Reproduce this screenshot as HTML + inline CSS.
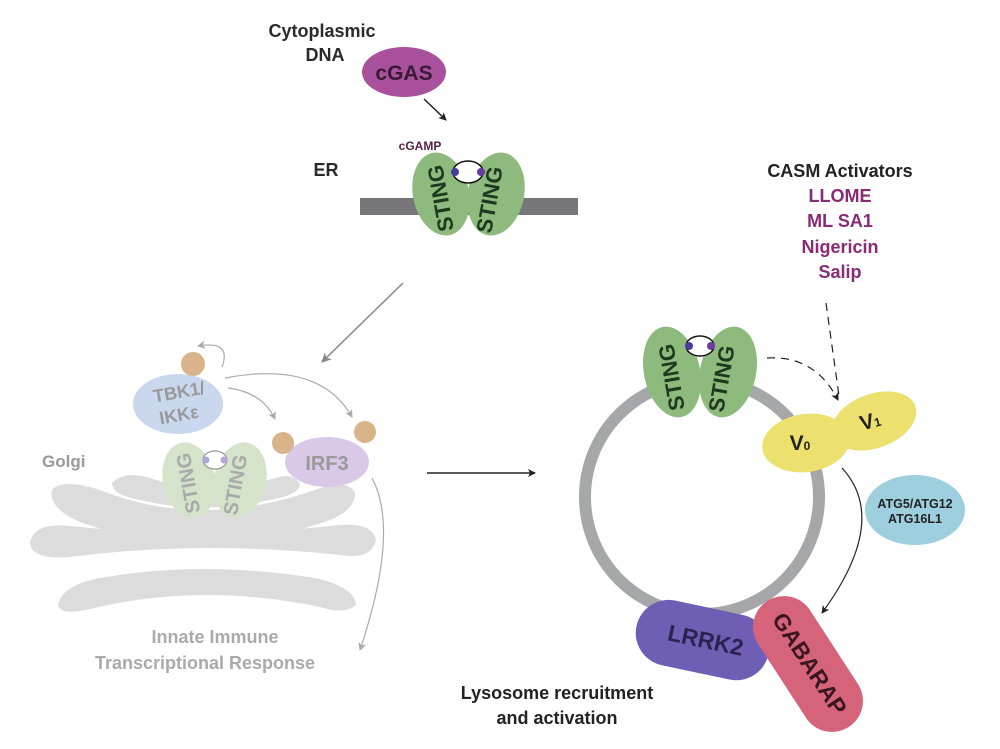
<!DOCTYPE html>
<html><head><meta charset="utf-8"><style>
html,body{margin:0;padding:0;background:#fff}
svg{display:block}
text{font-family:"Liberation Sans",sans-serif;font-weight:bold}
</style></head><body>
<svg width="1000" height="749" viewBox="0 0 1000 749" xmlns="http://www.w3.org/2000/svg">
<defs>
<marker id="ab" markerWidth="8" markerHeight="8" refX="7" refY="4" orient="auto" markerUnits="userSpaceOnUse"><path d="M0,0 L8,4 L0,8 L2,4Z" fill="#222"/></marker>
<marker id="ag" markerWidth="10" markerHeight="10" refX="9" refY="5" orient="auto" markerUnits="userSpaceOnUse"><path d="M0,0 L10,5 L0,10 L3,5Z" fill="#888"/></marker>
<marker id="al" markerWidth="8" markerHeight="8" refX="7" refY="4" orient="auto" markerUnits="userSpaceOnUse"><path d="M0,0 L8,4 L0,8 L2,4Z" fill="#aaa"/></marker>
</defs>

<!-- top -->
<text x="322" y="37" font-size="18" fill="#2a2a2a" text-anchor="middle">Cytoplasmic</text>
<text x="325" y="61" font-size="18" fill="#2a2a2a" text-anchor="middle">DNA</text>
<ellipse cx="404" cy="72" rx="42" ry="25" fill="#a8529e"/>
<text x="404" y="80" font-size="21" fill="#3a1a35" text-anchor="middle">cGAS</text>
<line x1="424" y1="99" x2="446" y2="120" stroke="#222" stroke-width="1.5" marker-end="url(#ab)"/>
<text x="420" y="150" font-size="12" fill="#5a1e48" text-anchor="middle">cGAMP</text>
<text x="326" y="176" font-size="18" fill="#2a2a2a" text-anchor="middle">ER</text>
<rect x="360" y="198" width="218" height="17" fill="#77777b"/>
<g>
<ellipse cx="441" cy="194" rx="28" ry="42" transform="rotate(-12 441 194)" fill="#8fba7e"/>
<ellipse cx="496" cy="194" rx="28" ry="42" transform="rotate(12 496 194)" fill="#8fba7e"/>
<text transform="translate(448,197) rotate(-100)" font-size="22" fill="#1e3a1e" text-anchor="middle">STING</text>
<text transform="translate(497,201) rotate(-80)" font-size="22" fill="#1e3a1e" text-anchor="middle">STING</text>
<ellipse cx="468" cy="172" rx="15" ry="11" fill="#fff" stroke="#111" stroke-width="1.5"/>
<circle cx="455" cy="172" r="4" fill="#4a3ba0"/><circle cx="481" cy="172" r="4" fill="#6a3ba0"/>
</g>
<line x1="403" y1="283" x2="322" y2="362" stroke="#888" stroke-width="1.5" marker-end="url(#ag)"/>

<!-- Golgi faded -->
<g fill="#dcdcdc">
<path d="M112,483 Q125,470 150,478 Q210,498 275,478 Q295,472 300,485 Q298,495 270,500 Q200,515 140,500 Q112,495 112,483Z"/>
<path d="M52,490 Q62,478 100,490 Q200,530 315,490 Q348,478 355,493 Q355,510 330,520 Q200,565 80,522 Q48,508 52,490Z"/>
<path d="M30,542 Q35,522 70,526 Q200,540 330,526 Q372,520 376,540 Q372,560 340,555 Q200,540 70,557 Q30,560 30,542Z"/>
<path d="M58,605 Q62,585 100,578 Q200,560 315,578 Q355,587 356,605 Q345,615 320,607 Q200,582 90,609 Q60,616 58,605Z"/>
</g>
<text x="42" y="467" font-size="17" fill="#999">Golgi</text>
<ellipse cx="178" cy="404" rx="45" ry="30" fill="#c9d7ef"/>
<text transform="translate(180,398) rotate(-10)" font-size="18" fill="#999" text-anchor="middle">TBK1/</text>
<text transform="translate(180,421) rotate(-10)" font-size="18" fill="#999" text-anchor="middle">IKKε</text>
<circle cx="193" cy="364" r="12" fill="#d9b48a"/>
<ellipse cx="189" cy="480" rx="26" ry="38" transform="rotate(-12 189 480)" fill="#d4e3c9"/>
<ellipse cx="240" cy="480" rx="26" ry="38" transform="rotate(12 240 480)" fill="#d4e3c9"/>
<text transform="translate(195,482) rotate(-100)" font-size="20" fill="#aaa" text-anchor="middle">STING</text>
<text transform="translate(242,486) rotate(-80)" font-size="20" fill="#aaa" text-anchor="middle">STING</text>
<ellipse cx="215" cy="460" rx="12" ry="9" fill="#fff" stroke="#999" stroke-width="1.3"/>
<circle cx="206" cy="460" r="3.5" fill="#b0a6d8"/><circle cx="224" cy="460" r="3.5" fill="#b8a6d8"/>
<ellipse cx="327" cy="462" rx="42" ry="25" fill="#d9c8e8"/>
<text x="327" y="470" font-size="20" fill="#999" text-anchor="middle">IRF3</text>
<circle cx="283" cy="443" r="11" fill="#d9b48a"/>
<circle cx="365" cy="432" r="11" fill="#d9b48a"/>
<g fill="none" stroke="#aaa" stroke-width="1.2">
<path d="M222,367 Q232,340 198,346" marker-end="url(#al)"/>
<path d="M225,378 Q320,360 352,417" marker-end="url(#al)"/>
<path d="M228,388 Q262,392 275,419" marker-end="url(#al)"/>
<path d="M372,478 Q400,530 360,650" marker-end="url(#al)"/>
</g>
<text x="215" y="643" font-size="18" fill="#aaa" text-anchor="middle">Innate Immune</text>
<text x="205" y="669" font-size="18" fill="#aaa" text-anchor="middle">Transcriptional Response</text>

<line x1="427" y1="473" x2="535" y2="473" stroke="#222" stroke-width="1.5" marker-end="url(#ab)"/>

<!-- right -->
<circle cx="702" cy="497" r="117" fill="none" stroke="#a6a7a9" stroke-width="12"/>
<ellipse cx="672" cy="372" rx="28" ry="46" transform="rotate(-12 672 372)" fill="#8fba7e"/>
<ellipse cx="728" cy="372" rx="28" ry="46" transform="rotate(12 728 372)" fill="#8fba7e"/>
<text transform="translate(679,376) rotate(-100)" font-size="22" fill="#1e3a1e" text-anchor="middle">STING</text>
<text transform="translate(729,380) rotate(-80)" font-size="22" fill="#1e3a1e" text-anchor="middle">STING</text>
<ellipse cx="700" cy="346" rx="14" ry="10" fill="#fff" stroke="#111" stroke-width="1.5"/>
<circle cx="689" cy="346" r="4" fill="#4a3ba0"/><circle cx="711" cy="346" r="4" fill="#6a3ba0"/>
<line x1="774" y1="599" x2="787" y2="611" stroke="#222" stroke-width="4"/>
<ellipse cx="874" cy="421" rx="44" ry="27" transform="rotate(-20 874 421)" fill="#ece06e"/>
<ellipse cx="806" cy="443" rx="44" ry="29" transform="rotate(-8 806 443)" fill="#ece06e"/>
<text x="800" y="450" font-size="21" fill="#222" text-anchor="middle">V<tspan font-size="12">0</tspan></text>
<text x="872" y="428" font-size="21" fill="#222" text-anchor="middle" transform="rotate(-15 872 428)">V<tspan font-size="12">1</tspan></text>
<ellipse cx="915" cy="510" rx="50" ry="35" fill="#9ecfdf"/>
<text x="915" y="508" font-size="12.5" fill="#222" text-anchor="middle">ATG5/ATG12</text>
<text x="915" y="523" font-size="12.5" fill="#222" text-anchor="middle">ATG16L1</text>
<path d="M842,468 Q890,520 822,613" fill="none" stroke="#222" stroke-width="1.2" marker-end="url(#ab)"/>
<path d="M767,358 Q815,355 838,400" fill="none" stroke="#222" stroke-width="1.2" stroke-dasharray="8,6" marker-end="url(#ab)"/>
<line x1="826" y1="303" x2="839" y2="396" stroke="#222" stroke-width="1.2" stroke-dasharray="8,6"/>
<rect x="635" y="607" width="135" height="66" rx="33" transform="rotate(12 702 640)" fill="#6e5fb5"/>
<text transform="translate(704,648) rotate(12)" font-size="23" fill="#2a2350" text-anchor="middle">LRRK2</text>
<rect x="733" y="633" width="150" height="62" rx="31" transform="rotate(57 808 664)" fill="#d5637a"/>
<text transform="translate(803,668) rotate(57)" font-size="23" fill="#3a1620" text-anchor="middle">GABARAP</text>
<text x="557" y="699" font-size="18" fill="#222" text-anchor="middle">Lysosome recruitment</text>
<text x="557" y="724" font-size="18" fill="#222" text-anchor="middle">and activation</text>
<text x="840" y="177" font-size="18" fill="#222" text-anchor="middle">CASM Activators</text>
<g font-size="18" fill="#8a2a77" text-anchor="middle">
<text x="840" y="202">LLOME</text>
<text x="840" y="227">ML SA1</text>
<text x="840" y="253">Nigericin</text>
<text x="840" y="278">Salip</text>
</g>
</svg>
</body></html>
